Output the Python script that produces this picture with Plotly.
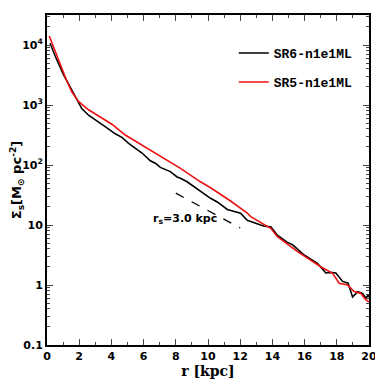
import math
import plotly.graph_objects as go

# SR6-n1e1ML (black)
r_sr6 = [0.19, 0.5, 1.0, 1.5, 1.74, 2.16, 2.58, 3.2, 3.61, 4.24, 4.5, 4.65, 5.07, 5.9, 6.42, 6.73, 7.04,
         7.66, 8.08, 8.29, 8.7, 9.53, 10.16, 10.6, 11.2, 12.02, 12.44, 13.27, 13.5, 13.9, 14.31, 14.93, 15.25,
         15.97, 16.8, 17.32, 17.6, 17.94, 18.36, 18.7, 18.98, 19.3, 19.6, 19.81, 19.93, 20.0]
lg_sr6 = [4.03, 3.82, 3.52, 3.26, 3.14, 2.94, 2.83, 2.72, 2.64, 2.52, 2.49, 2.46, 2.36, 2.2, 2.07, 2.03, 1.96,
          1.89, 1.80, 1.78, 1.72, 1.555, 1.445, 1.38, 1.26, 1.195, 1.08, 1.0, 0.98, 0.97, 0.83, 0.71, 0.67,
          0.5, 0.36, 0.2, 0.21, 0.2, 0.06, 0.03, -0.2, -0.11, -0.14, -0.22, -0.17, -0.2]

# SR5-n1e1ML (red)
r_sr5 = [0.14, 0.7, 1.2, 1.54, 1.95, 2.58, 3.4, 4.03, 4.86, 5.9, 6.42, 6.73, 7.66, 8.29, 9.53, 10.16, 11.4,
         12.44, 12.65, 13.27, 13.9, 14.31, 15.56, 17.0, 17.74, 18.15, 18.67, 19.08, 19.5, 19.81, 20.0]
lg_sr5 = [4.15, 3.75, 3.42, 3.22, 3.06, 2.92, 2.78, 2.68, 2.5, 2.33, 2.25, 2.2, 2.04, 1.945, 1.72, 1.62, 1.40,
          1.20, 1.14, 1.05, 0.945, 0.805, 0.555, 0.305, 0.195, 0.03, 0.0, -0.11, -0.14, -0.25, -0.28]

# reference exponential, r_s = 3 kpc
r_ref = [8.0, 12.0]
ref_amp = 33.9
r_s = 3.0

y_sr6 = [10 ** v for v in lg_sr6]
y_sr5 = [10 ** v for v in lg_sr5]
y_ref = [ref_amp * math.exp(-(x - 8.0) / r_s) for x in r_ref]

x_ticks = [0, 2, 4, 6, 8, 10, 12, 14, 16, 18, 20]
y_ticks = [0.1, 1, 10, 100, 1000, 10000]
y_ticktext = ["0.1", "1", "10", "10<sup>2</sup>", "10<sup>3</sup>", "10<sup>4</sup>"]
y_minor = [k * 10 ** d for d in range(-1, 5) for k in range(2, 10)]

fnt = "DejaVu Sans"
fig = go.Figure()
fig.add_trace(go.Scatter(x=r_sr6, y=y_sr6, mode="lines", name="SR6-n1e1ML",
                         line=dict(color="black", width=1.6), legendgroup="a"))
fig.add_trace(go.Scatter(x=r_sr5, y=y_sr5, mode="lines", name="SR5-n1e1ML",
                         line=dict(color="#ee1111", width=1.6), legendgroup="b"))
fig.add_trace(go.Scatter(x=r_ref, y=y_ref, mode="lines", showlegend=False,
                         line=dict(color="black", width=1.3, dash="dash")))

fig.add_annotation(x=8.6, y=1.1, yref="y", text="r<sub>s</sub>=3.0 kpc", showarrow=False,
                   font=dict(family=fnt, size=11, color="black", weight="bold"))

fig.update_layout(
    width=375, height=375,
    margin=dict(l=39, r=14, t=7, b=38),
    plot_bgcolor="white", paper_bgcolor="white",
    showlegend=True,
    legend=dict(x=0.58, y=0.93, xanchor="left", yanchor="top", bgcolor="rgba(0,0,0,0)",
                font=dict(family="Liberation Mono", size=13, color="black", weight="bold"),
                tracegroupgap=9, itemwidth=30),
    xaxis=dict(range=[0, 20], tickvals=x_ticks, ticks="inside", ticklen=6, tickwidth=1.3,
               mirror="allticks", showline=True, linewidth=2, linecolor="black",
               showgrid=False, zeroline=False, automargin=False,
               minor=dict(dtick=1, ticks="inside", ticklen=3, tickwidth=1, showgrid=False),
               tickfont=dict(family=fnt, size=11, color="black", weight="bold"),
               title=dict(text="r [kpc]", font=dict(family="DejaVu Serif", size=14, color="black", weight="bold"),
                          standoff=0)),
    yaxis=dict(type="log", range=[-1, 4.5], tickvals=y_ticks, ticktext=y_ticktext,
               ticks="inside", ticklen=6, tickwidth=1.3,
               mirror="allticks", showline=True, linewidth=2, linecolor="black",
               showgrid=False, zeroline=False, automargin=False,
               minor=dict(tickvals=y_minor, ticks="inside", ticklen=3, tickwidth=1, showgrid=False),
               tickfont=dict(family=fnt, size=11, color="black", weight="bold"),
               title=dict(text="Σ<sub>s</sub>[M<sub>⊙</sub> pc<sup>-2</sup>]",
                          font=dict(family=fnt, size=13, color="black", weight="bold"), standoff=4)),
)
fig.write_html("out.html")
